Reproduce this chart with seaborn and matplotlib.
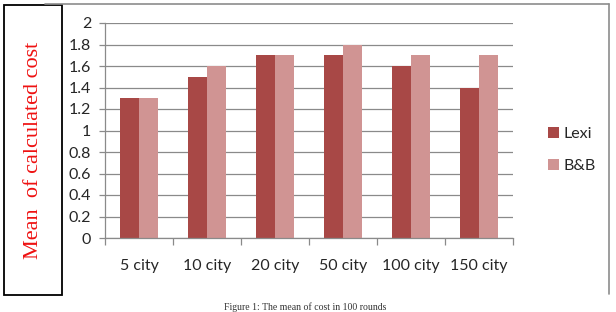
import matplotlib
matplotlib.use('Agg')
import matplotlib.pyplot as plt
import seaborn as sns
import pandas as pd
from matplotlib.patches import Rectangle
from matplotlib.lines import Line2D

# Datos del gráfico
cities = ['5 city', '10 city', '20 city', '50 city', '100 city', '150 city']
lexi = [1.3, 1.5, 1.7, 1.7, 1.6, 1.4]
bnb = [1.3, 1.6, 1.7, 1.8, 1.7, 1.7]
series = ['Lexi', 'B&B']
colors = ['#A84846', '#D09493']
y_ticks = [0, 0.2, 0.4, 0.6, 0.8, 1, 1.2, 1.4, 1.6, 1.8, 2]

df = pd.DataFrame({
    'city': cities * 2,
    'value': lexi + bnb,
    'method': ['Lexi'] * len(cities) + ['B&B'] * len(cities),
})

sns.set_style('white')
plt.rcParams['font.family'] = ['Lato', 'DejaVu Sans']

W, H = 616, 312
fig = plt.figure(figsize=(W / 100, H / 100), dpi=100)

def fx(px):
    return px / W

def fy(py):
    return 1 - py / H

# Marco del gráfico
fig.add_artist(Line2D([fx(45), fx(609)], [fy(3.5), fy(3.5)], color='#8c8c8c', lw=1.2))
fig.add_artist(Line2D([fx(608.5), fx(608.5)], [fy(3.5), fy(294)], color='#8c8c8c', lw=1.2))

ax = fig.add_axes([fx(105), fy(238), fx(513) - fx(105), fy(23) - fy(238)])
sns.barplot(data=df, x='city', y='value', hue='method', hue_order=series,
            palette=colors, width=0.57, saturation=1, ax=ax, gap=0, linewidth=0)

ax.set_ylim(0, 2)
ax.set_xlim(-0.5, len(cities) - 0.5)
ax.set_yticks(y_ticks)
ax.set_yticklabels([f'{t:g}' for t in y_ticks], fontsize=11.5)
ax.yaxis.grid(True, color='#8a8a8a', lw=0.9)
ax.set_axisbelow(True)
ax.tick_params(axis='x', length=0, pad=15, labelsize=11.5)
ax.tick_params(axis='y', length=4, width=0.9, color='#8a8a8a', left=True, pad=6)
ax.set_xticks(range(len(cities)))
ax.set_xticks([i - 0.5 for i in range(len(cities) + 1)], minor=True)
ax.tick_params(axis='x', which='minor', length=5, width=0.9, color='#8a8a8a', bottom=True)
for s in ['top', 'right']:
    ax.spines[s].set_visible(False)
for s in ['left', 'bottom']:
    ax.spines[s].set_color('#8a8a8a')
    ax.spines[s].set_linewidth(0.9)
ax.set_xlabel('')
ax.set_ylabel('')

leg = ax.legend(loc='center left', bbox_to_anchor=(1.05, 0.41), frameon=False,
                fontsize=11.5, handlelength=0.7, handleheight=0.7, handletextpad=0.3,
                labelspacing=1.1)

# Caja con el título del eje Y
fig.add_artist(Rectangle((fx(4), fy(295)), fx(62) - fx(4), fy(5) - fy(295),
                         facecolor='white', edgecolor='black', lw=1.3))
fig.text(fx(34), fy(150), 'Mean  of calculated cost', rotation=90, color='#ee1111',
         family=['Liberation Serif'], fontsize=16, ha='center', va='center')

# Pie de figura
fig.text(fx(305), fy(302), 'Figure 1: The mean of cost in 100 rounds',
         family=['Liberation Serif'], fontsize=7, ha='center', va='top', color='#333333')

fig.savefig('out.png', dpi=100)
